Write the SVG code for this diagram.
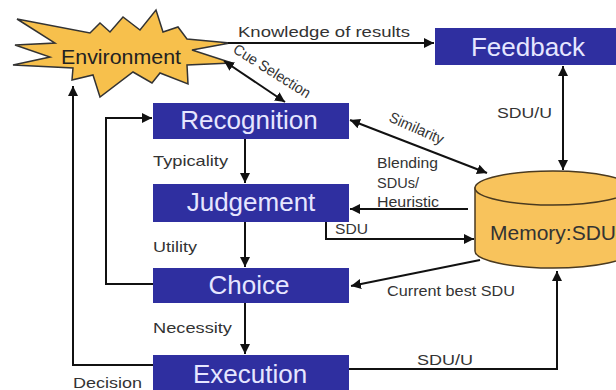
<svg xmlns="http://www.w3.org/2000/svg" width="616" height="390" viewBox="0 0 616 390">
  <defs>
    <marker id="arr" viewBox="0 0 10 10" refX="10" refY="5" markerWidth="10" markerHeight="10" markerUnits="userSpaceOnUse" orient="auto-start-reverse">
      <path d="M0,0 L10,5 L0,10 Z" fill="#111"/>
    </marker>
    <style>
      .box { fill: #2f2fa0; }
      .btxt { font-family: "Liberation Sans", Arial, sans-serif; font-size: 26px; fill: #e6e6ff; text-anchor: middle; }
      .lbl { font-family: "Liberation Sans", Arial, sans-serif; font-size: 15px; fill: #333; }
      .ln { fill: none; stroke: #111; stroke-width: 2; }
      .end { marker-end: url(#arr); }
      .both { marker-start: url(#arr); marker-end: url(#arr); }
    </style>
  </defs>
  <rect width="616" height="390" fill="#fff"/>

  <!-- Environment burst -->
  <g id="environment">
    <polygon points="17,19 90,33 100,23 110,32 123,17 140,30 156,10 163,32 178,27 187,39 230,43 192,50 232,63 187,65 188,84 160,73 152,83 133,72 100,97 93,75 72,80 73,68 13,65 50,57 15,45 55,43" fill="#f7c04c" stroke="#333" stroke-width="1.5" stroke-linejoin="miter"/>
    <text x="121" y="64" font-family="Liberation Sans, Arial, sans-serif" font-size="21" fill="#222" text-anchor="middle" textLength="120" lengthAdjust="spacingAndGlyphs">Environment</text>
  </g>

  <g id="feedback">
    <rect class="box" x="435" y="28" width="181" height="37"/>
    <text class="btxt" x="528" y="56">Feedback</text>
  </g>

  <g id="recognition">
    <rect class="box" x="153" y="103" width="196" height="36"/>
    <text class="btxt" x="249" y="129">Recognition</text>
  </g>

  <g id="judgement">
    <rect class="box" x="153" y="184" width="196" height="38"/>
    <text class="btxt" x="251" y="211">Judgement</text>
  </g>

  <g id="choice">
    <rect class="box" x="153" y="268" width="196" height="35"/>
    <text class="btxt" x="249" y="294">Choice</text>
  </g>

  <g id="execution">
    <rect class="box" x="153" y="355" width="196" height="37"/>
    <text class="btxt" x="250" y="383">Execution</text>
  </g>

  <!-- Memory store drawn as a cylinder -->
  <g id="memory">
    <path d="M475,188 L475,251 A78,17 0 0 0 631,251 L631,188 Z" fill="#f8c35c" stroke="#4a3a20" stroke-width="1.5"/>
    <ellipse cx="553" cy="188" rx="78" ry="17" fill="#f8c35c" stroke="#4a3a20" stroke-width="1.5"/>
    <text x="553" y="240" font-family="Liberation Sans, Arial, sans-serif" font-size="21" fill="#333" text-anchor="middle" textLength="126" lengthAdjust="spacingAndGlyphs">Memory:SDU</text>
  </g>

  <g id="connectors">
    <!-- Environment -> Feedback -->
    <line class="ln end" x1="228" y1="43" x2="434" y2="43"/>
    <text class="lbl" x="238" y="37" textLength="172" lengthAdjust="spacingAndGlyphs">Knowledge of results</text>

    <!-- Environment <-> Recognition -->
    <line class="ln both" x1="224" y1="61" x2="285" y2="102"/>
    <text class="lbl" font-size="14" transform="translate(232,52) rotate(32)" textLength="88" lengthAdjust="spacingAndGlyphs">Cue Selection</text>

    <!-- Feedback <-> Memory -->
    <line class="ln both" x1="563" y1="66" x2="563" y2="170"/>
    <text class="lbl" x="497" y="118" textLength="55" lengthAdjust="spacingAndGlyphs">SDU/U</text>

    <!-- Recognition <-> Memory -->
    <line class="ln both" x1="350" y1="120" x2="487" y2="173"/>
    <text class="lbl" font-size="14" transform="translate(388,121) rotate(24)" textLength="58" lengthAdjust="spacingAndGlyphs">Similarity</text>

    <!-- Memory -> Judgement -->
    <line class="ln end" x1="468" y1="209" x2="350" y2="209"/>
    <text class="lbl" x="377" y="168" textLength="61" lengthAdjust="spacingAndGlyphs">Blending</text>
    <text class="lbl" x="377" y="188" textLength="42" lengthAdjust="spacingAndGlyphs">SDUs/</text>
    <text class="lbl" x="377" y="207" textLength="62" lengthAdjust="spacingAndGlyphs">Heuristic</text>

    <!-- Judgement -> Memory -->
    <polyline class="ln end" points="326,222 326,239 474,239"/>
    <text class="lbl" x="335" y="234" textLength="33" lengthAdjust="spacingAndGlyphs">SDU</text>

    <!-- Memory -> Choice -->
    <line class="ln end" x1="480" y1="260" x2="351" y2="286"/>
    <text class="lbl" x="387" y="296" textLength="128" lengthAdjust="spacingAndGlyphs">Current best SDU</text>

    <!-- Execution -> Memory -->
    <polyline class="ln end" points="349,369 557,369 557,271"/>
    <text class="lbl" x="417" y="365" textLength="56" lengthAdjust="spacingAndGlyphs">SDU/U</text>

    <!-- Main chain -->
    <line class="ln end" x1="245" y1="139" x2="245" y2="183"/>
    <text class="lbl" x="153" y="166" textLength="75" lengthAdjust="spacingAndGlyphs">Typicality</text>
    <line class="ln end" x1="245" y1="222" x2="245" y2="267"/>
    <text class="lbl" x="153" y="252" textLength="44" lengthAdjust="spacingAndGlyphs">Utility</text>
    <line class="ln end" x1="245" y1="303" x2="245" y2="354"/>
    <text class="lbl" x="153" y="333" textLength="79" lengthAdjust="spacingAndGlyphs">Necessity</text>

    <!-- Choice -> Recognition loop -->
    <polyline class="ln end" points="153,284 106,284 106,118 152,118"/>

    <!-- Execution -> Environment loop -->
    <polyline class="ln end" points="153,365 73,365 73,86"/>
    <text class="lbl" x="73" y="388" textLength="69" lengthAdjust="spacingAndGlyphs">Decision</text>
  </g>
</svg>
